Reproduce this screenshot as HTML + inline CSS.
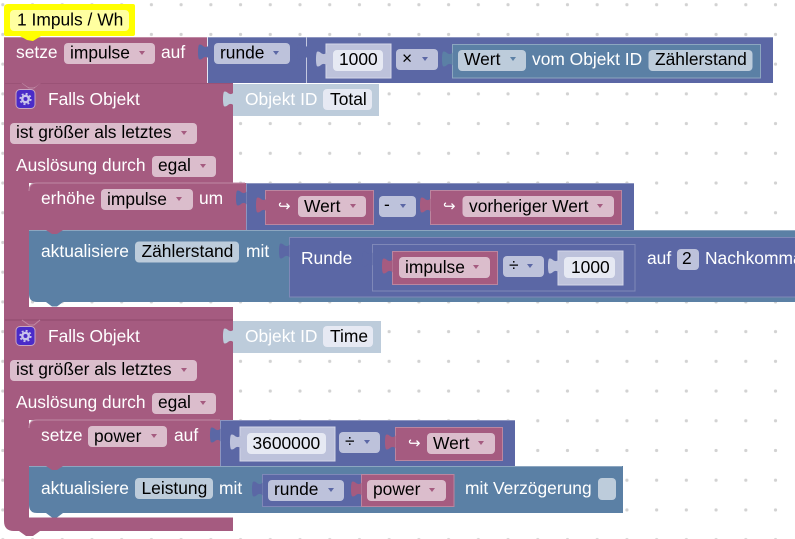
<!DOCTYPE html>
<html><head><meta charset="utf-8"><style>
html,body{margin:0;padding:0;background:#fff;width:795px;height:539px;overflow:hidden}
svg{display:block}
text{font-family:"Liberation Sans",sans-serif;font-size:17.4px}
.w{fill:#fff}.b{fill:#000}
.ar{fill:#fff;font-size:15px}
.fp{fill:#dbbdcc}.fi{fill:#bdc2db}.fb{fill:#bdccdb}.fl{fill:#e6e9f3}
.p{fill:#a55b80}.i{fill:#5b67a5}.u{fill:#5b80a5}
.ip{fill:#a55b80;stroke:#bb86a0;stroke-width:1}
.ii{fill:#5b67a5;stroke:#7f88b8;stroke-width:1}
.iu{fill:#5b80a5;stroke:#8ca6c0;stroke-width:1}
.is{fill:#bdc2db;stroke:#d4d7e8;stroke-width:1}
.ap{fill:#a55b80}.ai{fill:#5b67a5}.au{fill:#5b80a5}
</style></head><body>
<svg width="795" height="539" viewBox="0 0 795 539" xmlns="http://www.w3.org/2000/svg">
<defs>
<pattern id="g" x="2.8" y="4.7" width="29.72" height="29.72" patternUnits="userSpaceOnUse"><circle cx="0" cy="0" r="1.6" fill="#d2d2d2"/><circle cx="29.72" cy="0" r="1.6" fill="#d2d2d2"/><circle cx="0" cy="29.72" r="1.6" fill="#d2d2d2"/><circle cx="29.72" cy="29.72" r="1.6" fill="#d2d2d2"/></pattern>
<path id="tab" d="M10.500 .5C9 2.500 7 2.500 5 1C3.500-.5 1.500-1 .8 0C-.3 3-.3 11 .8 14C1.500 15 3.500 14.500 5 13C7 11.500 9 11.500 10.500 13.500Z"/>
<path id="arr" d="M0 0h6l-3 4z"/>
<g id="gear"><rect x="0" y="0" width="19" height="19" rx="4" fill="#4a2bc8" stroke="#c9a6c0" stroke-width="1"/><circle cx="9.500" cy="9.500" r="3.200" fill="none" stroke="#c9c4ec" stroke-width="2.400"/><circle cx="9.500" cy="9.500" r="5.200" fill="none" stroke="#c9c4ec" stroke-width="1.800" stroke-dasharray="2 2.080"/></g>
</defs>
<rect width="795" height="539" fill="url(#g)"/>

<!-- Falls 1 -->
<path class="p" d="M4 83H233V183H29V307H233V320H4z"/>
<path d="M5 83H233" stroke="#8e4a6c" stroke-width="1"/>
<path d="M22 83l7 5h5l6-5" fill="none" stroke="#c08aa5" stroke-width="1"/>
<rect x="233" y="84" width="146" height="32" fill="#bdccdb"/>
<use href="#tab" x="223" y="92" fill="#bdccdb"/>
<text x="245" y="105" fill="#fff">Objekt ID</text>
<rect x="323" y="89" width="49" height="21" rx="4" class="fl"/>
<text x="330" y="105" class="b">Total</text>
<use href="#gear" x="16" y="89.5"/>
<text x="48" y="105" class="w">Falls Objekt</text>
<rect x="10" y="123" width="187" height="21" rx="4" class="fp"/>
<text x="16" y="138" class="b">ist größer als letztes</text>
<use href="#arr" x="181" y="131" class="ap"/>
<text x="16" y="171" class="w">Auslösung durch</text>
<rect x="152" y="156" width="64" height="21" rx="4" class="fp"/>
<text x="158" y="171" class="b">egal</text>
<use href="#arr" x="200" y="164" class="ap"/>

<!-- erhöhe -->
<path class="p" d="M29 191q0-8 8-8H246V230H29z"/>
<path d="M29 191q0-8 8-8H245" fill="none" stroke="#c08aa5" stroke-width="1"/>
<path class="i" d="M246 183H634V230H246z"/>
<path d="M246 183.500H634" stroke="#8d95c0" stroke-width="1"/>
<path d="M246.500 183V230" stroke="#8d95c0" stroke-width="1"/>
<use href="#tab" x="236" y="191" class="i"/>
<text x="41" y="204" class="w">erhöhe</text>
<rect x="101" y="189" width="92" height="21" rx="4" class="fp"/>
<text x="107" y="205" class="b">impulse</text>
<use href="#arr" x="176" y="197" class="ap"/>
<text x="199" y="204" class="w">um</text>
<rect x="265.500" y="190.500" width="108" height="34" class="ip"/>
<use href="#tab" x="256" y="198" class="p"/>
<text x="278" y="211" class="ar">↪</text>
<rect x="298" y="196" width="68" height="21" rx="4" class="fp"/>
<text x="304" y="212" class="b">Wert</text>
<use href="#arr" x="350" y="204" class="ap"/>
<rect x="379" y="196" width="37" height="21" rx="4" class="fi"/>
<text x="384" y="210" class="b">-</text>
<use href="#arr" x="400" y="204" class="ai"/>
<rect x="430.500" y="190.500" width="191" height="34" class="ip"/>
<use href="#tab" x="420" y="198" class="p"/>
<text x="443" y="211" class="ar">↪</text>
<rect x="462.500" y="196" width="151.500" height="21" rx="4" class="fp"/>
<text x="469" y="212" class="b">vorheriger Wert</text>
<use href="#arr" x="597" y="204" class="ap"/>

<!-- aktualisiere 1 -->
<path class="u" d="M29 230H795V302H37q-8 0-8-8z"/>
<path d="M29 230.500H795" stroke="#8ca6c0" stroke-width="1"/>
<path d="M46 230l6 4h5l6-4z" fill="#a55b80"/>
<path d="M46 302l6 4.500h5l6-4.500z" class="u"/>
<text x="41" y="257" class="w">aktualisiere</text>
<rect x="135" y="241.500" width="104" height="21" rx="4" class="fb"/>
<text x="141.500" y="257" class="b">Zählerstand</text>
<text x="246" y="257" class="w">mit</text>
<rect x="289.500" y="237.500" width="520" height="59.500" class="ii"/>
<use href="#tab" x="279" y="244" class="i"/>
<text x="301" y="264" class="w">Runde</text>
<rect x="372.500" y="244.500" width="262.500" height="46.500" class="ii"/>
<use href="#tab" x="362" y="252" class="i"/>
<rect x="392.500" y="251.500" width="105" height="33" class="ip"/>
<use href="#tab" x="382" y="259" class="p"/>
<rect x="399" y="257" width="91" height="21" rx="4" class="fp"/>
<text x="405" y="273" class="b">impulse</text>
<use href="#arr" x="473" y="265" class="ap"/>
<rect x="503" y="256" width="41" height="21" rx="4" class="fi"/>
<text x="509" y="271" class="b">÷</text>
<use href="#arr" x="527" y="264" class="ai"/>
<rect x="558" y="251" width="65" height="34" class="is"/>
<use href="#tab" x="548" y="259" fill="#bdc2db"/>
<rect x="564" y="257" width="51" height="21" rx="4" class="fl"/>
<text x="571" y="273" class="b">1000</text>
<text x="647" y="264" class="w">auf</text>
<rect x="677" y="249" width="22" height="21" rx="4" class="fi"/>
<text x="682" y="264" class="b">2</text>
<text x="705" y="264" class="w">Nachkommastellen</text>

<!-- Falls 2 -->
<path class="p" d="M4 320H233V420H29V517.500H233V531H14q-10 0-10-10z"/>
<path d="M5 320H233" stroke="#8e4a6c" stroke-width="1"/>
<path d="M22 320l7 5h5l6-5" fill="none" stroke="#c08aa5" stroke-width="1"/>
<path d="M19 531l7 5h7l7-5z" class="p"/>
<rect x="233" y="321" width="148" height="32" fill="#bdccdb"/>
<use href="#tab" x="223" y="329" fill="#bdccdb"/>
<text x="245" y="342" fill="#fff">Objekt ID</text>
<rect x="323" y="326" width="50" height="21" rx="4" class="fl"/>
<text x="330" y="342" class="b">Time</text>
<use href="#gear" x="16" y="326.500"/>
<text x="48" y="342" class="w">Falls Objekt</text>
<rect x="10" y="360" width="187" height="21" rx="4" class="fp"/>
<text x="16" y="375" class="b">ist größer als letztes</text>
<use href="#arr" x="181" y="368" class="ap"/>
<text x="16" y="408" class="w">Auslösung durch</text>
<rect x="152" y="393" width="64" height="21" rx="4" class="fp"/>
<text x="158" y="408" class="b">egal</text>
<use href="#arr" x="200" y="401" class="ap"/>

<!-- setze power -->
<path class="p" d="M29 428q0-8 8-8H220V466H29z"/>
<path d="M29 428q0-8 8-8H220" fill="none" stroke="#c08aa5" stroke-width="1"/>
<rect x="220" y="420" width="295" height="46" class="i"/>
<path d="M220 420.500H515" stroke="#8d95c0" stroke-width="1"/>
<path d="M220.500 420V466" stroke="#8d95c0" stroke-width="1"/>
<use href="#tab" x="210" y="428" class="i"/>
<text x="41" y="441" class="w">setze</text>
<rect x="88" y="426" width="79" height="21" rx="4" class="fp"/>
<text x="94" y="442" class="b">power</text>
<use href="#arr" x="151" y="434" class="ap"/>
<text x="174" y="441" class="w">auf</text>
<rect x="240" y="427" width="95" height="34" class="is"/>
<use href="#tab" x="230" y="435" fill="#bdc2db"/>
<rect x="247" y="433" width="79" height="21" rx="4" class="fl"/>
<text x="252.500" y="449" class="b">3600000</text>
<rect x="339" y="432" width="41" height="21" rx="4" class="fi"/>
<text x="345" y="447" class="b">÷</text>
<use href="#arr" x="364" y="440" class="ai"/>
<rect x="395.500" y="427.500" width="107" height="33" class="ip"/>
<use href="#tab" x="385" y="435" class="p"/>
<text x="408" y="448" class="ar">↪</text>
<rect x="427" y="433" width="68" height="21" rx="4" class="fp"/>
<text x="433" y="449" class="b">Wert</text>
<use href="#arr" x="478" y="441" class="ap"/>

<!-- aktualisiere 2 -->
<path class="u" d="M29 466H623V513H37q-8 0-8-8z"/>
<path d="M29 466.500H622" stroke="#8ca6c0" stroke-width="1"/>
<path d="M46 466l6 4h5l6-4z" fill="#a55b80"/>
<path d="M46 513l6 4.500h5l6-4.500z" class="u"/>
<text x="41" y="494" class="w">aktualisiere</text>
<rect x="135" y="478" width="78" height="21" rx="4" class="fb"/>
<text x="141.500" y="494" class="b">Leistung</text>
<text x="219" y="494" class="w">mit</text>
<rect x="262.500" y="474.500" width="99" height="32" class="ii"/>
<use href="#tab" x="252" y="482" class="i"/>
<rect x="268" y="480" width="76" height="21" rx="4" class="fi"/>
<text x="274" y="495" class="b">runde</text>
<use href="#arr" x="328" y="488" class="ai"/>
<rect x="361.500" y="474.500" width="92.500" height="32" class="ip"/>
<use href="#tab" x="351" y="482" class="p"/>
<rect x="367" y="480" width="79" height="21" rx="4" class="fp"/>
<text x="373" y="495" class="b">power</text>
<use href="#arr" x="429" y="488" class="ap"/>
<text x="465" y="494" class="w">mit Verzögerung</text>
<rect x="598" y="478" width="18" height="22" rx="4" class="fb"/>

<!-- setze impulse top row -->
<path class="p" d="M4 37H208V83H4z"/>
<path d="M22 83l6 4h7l6-4z" class="p"/>
<path d="M4 37.500H208" stroke="#c08aa5" stroke-width="1"/>
<rect x="208" y="37" width="98" height="46" class="i"/>
<rect x="307" y="37" width="466" height="46" class="i"/>
<path d="M208 37.500H773" stroke="#8d95c0" stroke-width="1"/>
<path d="M207.500 37V83" stroke="#e4e6f2" stroke-width="1"/>
<path d="M306.500 37V83" stroke="#c4c8e0" stroke-width="1"/>
<use href="#tab" x="198" y="45" class="i"/>
<use href="#tab" x="297" y="45" class="i"/>
<text x="16" y="58" class="w">setze</text>
<rect x="64" y="43" width="91" height="21" rx="4" class="fp"/>
<text x="70" y="58.500" class="b">impulse</text>
<use href="#arr" x="139" y="51" class="ap"/>
<text x="161" y="58" class="w">auf</text>
<rect x="214" y="43" width="76" height="21" rx="4" class="fi"/>
<text x="220" y="58.500" class="b">runde</text>
<use href="#arr" x="273" y="51" class="ai"/>
<rect x="326" y="44" width="65" height="34" class="is"/>
<use href="#tab" x="316" y="52" fill="#bdc2db"/>
<rect x="333" y="50" width="50" height="21" rx="4" class="fl"/>
<text x="339" y="65" class="b">1000</text>
<rect x="396" y="49" width="42" height="21" rx="4" class="fi"/>
<text x="402" y="64" class="b">×</text>
<use href="#arr" x="422" y="57" class="ai"/>
<rect x="452.500" y="44.500" width="308" height="33.500" class="iu"/>
<use href="#tab" x="442" y="52" class="u"/>
<rect x="458" y="50" width="68" height="21" rx="4" class="fb"/>
<text x="464" y="65" class="b">Wert</text>
<use href="#arr" x="510" y="57" class="au"/>
<text x="532" y="65" class="w">vom Objekt ID</text>
<rect x="648.500" y="50" width="104" height="21" rx="4" class="fb"/>
<text x="655" y="65" class="b">Zählerstand</text>

<!-- comment -->
<path d="M8 4H133q2 0 2 2V34q0 2-2 2H41l-8 5-6-1-7-4H6q-2 0-2-2V8q0-4 4-4z" fill="#ffff00"/>
<rect x="10" y="10" width="119" height="21" rx="4" fill="#ffffa0"/>
<text x="17" y="25.500" class="b">1 Impuls / Wh</text>
</svg>
</body></html>
